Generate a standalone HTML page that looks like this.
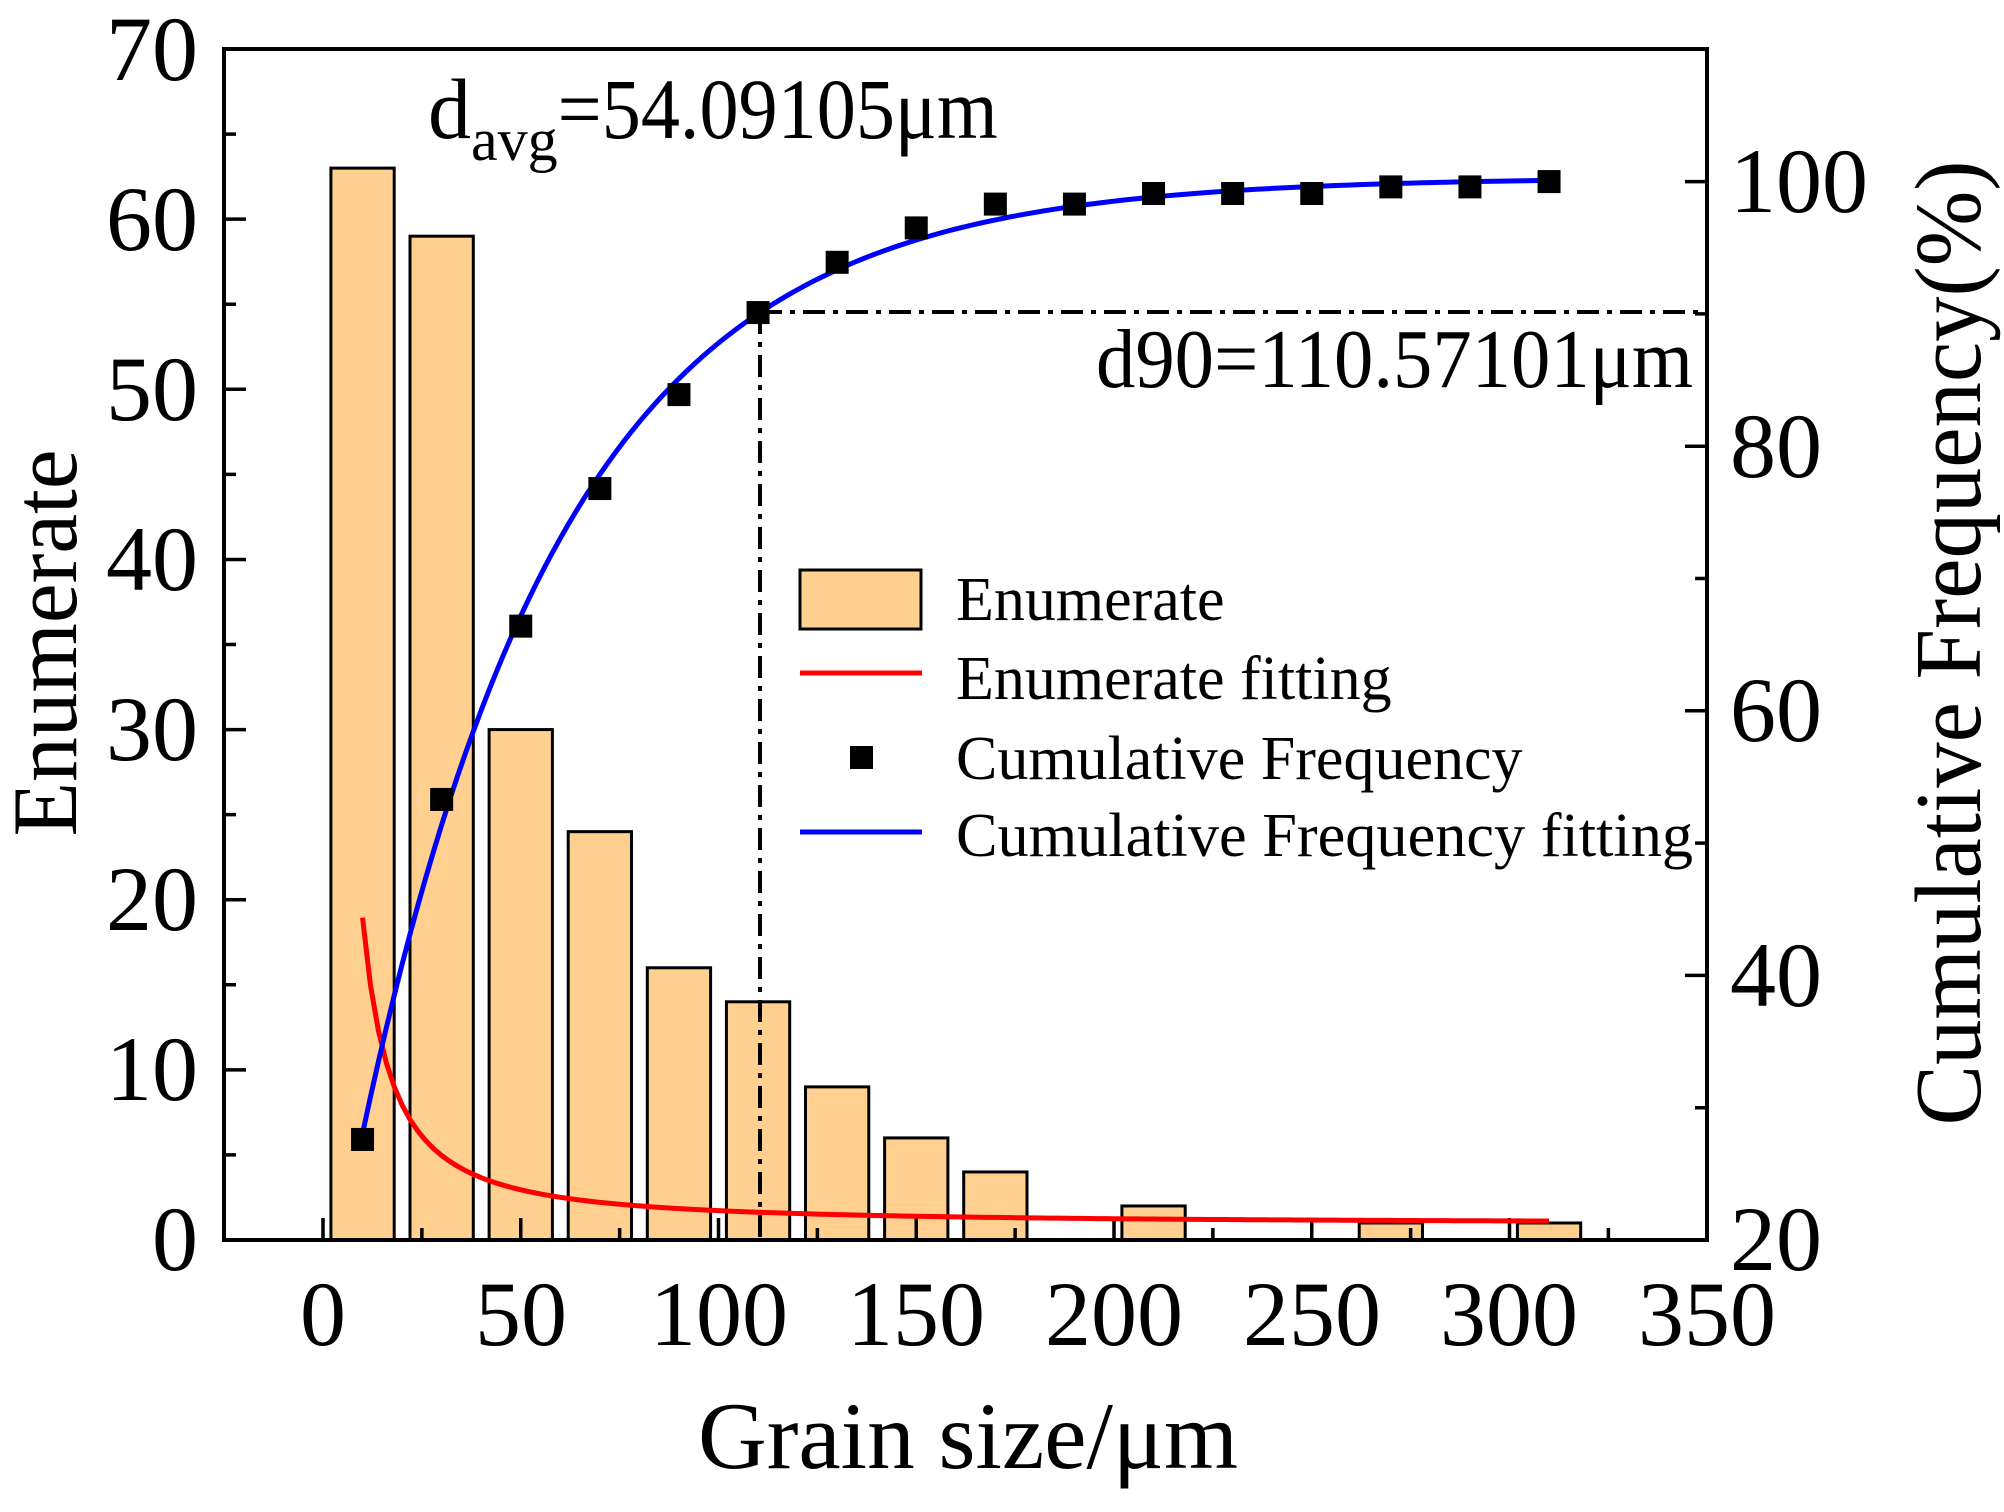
<!DOCTYPE html>
<html><head><meta charset="utf-8"><style>
html,body{margin:0;padding:0;background:#fff;}
svg{display:block;font-family:"Liberation Serif",serif;}
</style></head><body>
<svg id="s" width="2004" height="1512" viewBox="0 0 2004 1512" xmlns="http://www.w3.org/2000/svg">
<rect width="2004" height="1512" fill="#fff"/>
<g id="bars"></g>
<g id="ticks" stroke="#000" stroke-width="3.5"></g>
<path id="red" fill="none" stroke="#ff0000" stroke-width="5"/>
<path d="M760,312 L1707,312 M760,312 L760,1240" fill="none" stroke="#000" stroke-width="4" stroke-dasharray="22,8,5,8"/>
<path id="blue" fill="none" stroke="#0000ff" stroke-width="5"/>
<g id="pts" fill="#000"></g>
<rect x="224" y="49" width="1483" height="1191" fill="none" stroke="#000" stroke-width="4"/>
<g font-size="92" text-anchor="end">
<text x="198" y="1270">0</text><text x="198" y="1100">10</text><text x="198" y="930">20</text>
<text x="198" y="760">30</text><text x="198" y="590">40</text><text x="198" y="420">50</text>
<text x="198" y="250">60</text><text x="198" y="80">70</text>
</g>
<g font-size="92" text-anchor="start">
<text x="1730" y="1270">20</text><text x="1730" y="1006">40</text><text x="1730" y="741">60</text>
<text x="1730" y="477">80</text><text x="1730" y="212">100</text>
</g>
<g font-size="92" text-anchor="middle">
<text x="323" y="1345">0</text><text x="521" y="1345">50</text><text x="719" y="1345">100</text>
<text x="916" y="1345">150</text><text x="1114" y="1345">200</text><text x="1312" y="1345">250</text>
<text x="1509" y="1345">300</text><text x="1707" y="1345">350</text>
</g>
<text x="968" y="1468" font-size="95" text-anchor="middle" textLength="540" lengthAdjust="spacingAndGlyphs">Grain size/μm</text>
<text transform="translate(76,643) rotate(-90)" font-size="92" text-anchor="middle" textLength="387" lengthAdjust="spacingAndGlyphs">Enumerate</text>
<text transform="translate(1980,643) rotate(-90)" font-size="94" text-anchor="middle" textLength="965" lengthAdjust="spacingAndGlyphs">Cumulative Frequency(%)</text>
<text x="428" y="138" font-size="86">d<tspan font-size="60" dy="22">avg</tspan><tspan dy="-22" textLength="440" lengthAdjust="spacingAndGlyphs">=54.09105μm</tspan></text>
<text x="1693" y="387" font-size="84" text-anchor="end" textLength="597" lengthAdjust="spacingAndGlyphs">d90=110.57101μm</text>
<rect x="800" y="570" width="121" height="59" fill="#ffd08f" stroke="#000" stroke-width="3"/>
<line x1="800" y1="673" x2="922" y2="673" stroke="#ff0000" stroke-width="5"/>
<rect x="850" y="746" width="23" height="23" fill="#000"/>
<line x1="800" y1="832" x2="922" y2="832" stroke="#0000ff" stroke-width="5"/>
<g font-size="62">
<text x="956" y="620">Enumerate</text>
<text x="956" y="699">Enumerate fitting</text>
<text x="956" y="779">Cumulative Frequency</text>
<text x="956" y="856" textLength="737" lengthAdjust="spacingAndGlyphs">Cumulative Frequency fitting</text>
</g>
</svg>
<script>
const X=x=>323+3.955*x, YL=v=>1240-17.014*v, YR=p=>1240-13.23*(p-20);
const ns="http://www.w3.org/2000/svg";
function el(t,a,p){const e=document.createElementNS(ns,t);for(const k in a)e.setAttribute(k,a[k]);document.getElementById(p).appendChild(e);}
const h=[63,59,30,24,16,14,9,6,4,0,2,0,0,1,0,1];
h.forEach((v,i)=>{if(!v)return;const c=10+20*i;el("rect",{x:X(c-8),y:YL(v),width:16*3.955,height:YL(0)-YL(v),fill:"#ffd08f",stroke:"#000","stroke-width":3},"bars");});
let d="";
for(let x=-25;x<=350;x+=25){const maj=x%50==0;d+=`M${X(x)},1240 L${X(x)},${1240-(maj?22:12)} `;}
for(let v=0;v<=70;v+=5){const maj=v%10==0;d+=`M224,${YL(v)} L${224+(maj?22:12)},${YL(v)} `;}
for(let p=20;p<=110;p+=10){const maj=p%20==0;d+=`M1707,${YR(p)} L${1707-(maj?22:12)},${YR(p)} `;}
el("path",{d:d,fill:"none"},"ticks");
let r="",b="";
for(let x=10;x<=310;x+=2){r+=(x==10?"M":"L")+X(x)+","+YL(0.95+417/Math.pow(x,1.365))+" ";b+=(x==10?"M":"L")+X(x)+","+YR(100.3-87.8*Math.exp(-x/51.3))+" ";}
document.getElementById("red").setAttribute("d",r);
document.getElementById("blue").setAttribute("d",b);
const cf=[27.6,53.3,66.4,76.8,83.9,90.1,93.9,96.5,98.3,98.3,99.1,99.1,99.1,99.6,99.6,100];
cf.forEach((p,i)=>el("rect",{x:X(10+20*i)-11.5,y:YR(p)-11.5,width:23,height:23},"pts"));
</script>
</body></html>
